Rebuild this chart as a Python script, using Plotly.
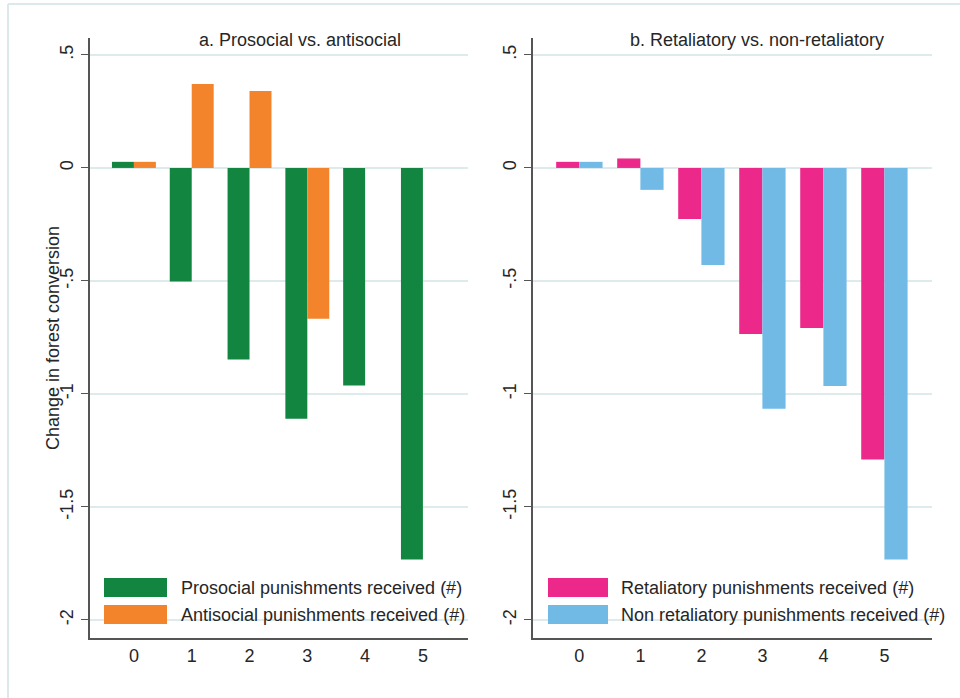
import plotly.graph_objects as go

# Punishments received (#)
categories = [0, 1, 2, 3, 4, 5]
tick_labels = ["0", "1", "2", "3", "4", "5"]

# Panel a: change in forest conversion by punishment type
prosocial = [0.027, -0.503, -0.848, -1.110, -0.963, -1.733]
antisocial = [0.027, 0.372, 0.341, -0.667, None, None]

# Panel b
retaliatory = [0.027, 0.042, -0.226, -0.735, -0.708, -1.290]
non_retaliatory = [0.027, -0.097, -0.430, -1.066, -0.965, -1.733]

y_tickvals = [0.5, 0, -0.5, -1, -1.5, -2]
y_ticktext = [".5", "0", "-.5", "-1", "-1.5", "-2"]

panel_titles = ["a. Prosocial vs. antisocial", "b. Retaliatory vs. non-retaliatory"]
legend_a = ["Prosocial punishments received (#)", "Antisocial punishments received (#)"]
legend_b = ["Retaliatory punishments received (#)", "Non retaliatory punishments received (#)"]

GREEN = "#128641"
ORANGE = "#F3842C"
PINK = "#EC288B"
BLUE = "#72BAE6"
GRID = "#DDEBEC"
AXIS = "#555555"
TEXT = "#262626"
FONT = "Liberation Sans, Arial, sans-serif"
FS = 18

W, H = 960, 698
dom_a = [90 / W, 468 / W]
dom_b = [533 / W, 932 / W]
dom_y = [1 - 638 / H, 1 - 38 / H]

fig = go.Figure()

fig.add_trace(go.Bar(x=categories, y=prosocial, marker=dict(color=GREEN, line=dict(width=0)),
                     xaxis="x", yaxis="y", showlegend=False))
fig.add_trace(go.Bar(x=categories, y=antisocial, marker=dict(color=ORANGE, line=dict(width=0)),
                     xaxis="x", yaxis="y", showlegend=False))
fig.add_trace(go.Bar(x=categories, y=retaliatory, marker=dict(color=PINK, line=dict(width=0)),
                     xaxis="x2", yaxis="y2", showlegend=False))
fig.add_trace(go.Bar(x=categories, y=non_retaliatory, marker=dict(color=BLUE, line=dict(width=0)),
                     xaxis="x2", yaxis="y2", showlegend=False))

xaxis_common = dict(
    range=[-0.76, 5.78], tickvals=categories, ticktext=tick_labels,
    showgrid=False, zeroline=False, showline=True, linecolor=AXIS, linewidth=1.5,
    ticks="", ticklabelstandoff=1,
    tickfont=dict(family=FONT, size=FS, color=TEXT), fixedrange=True,
)
yaxis_common = dict(
    range=[-2.08, 0.575], tickvals=y_tickvals, ticktext=y_ticktext, tickangle=-90,
    showgrid=True, gridcolor=GRID, gridwidth=1.5, zeroline=False,
    showline=True, linecolor=AXIS, linewidth=1.5,
    ticks="outside", ticklen=7, tickwidth=1.2, tickcolor=AXIS, ticklabelstandoff=1,
    tickfont=dict(family=FONT, size=FS, color=TEXT), domain=dom_y,
)

fig.update_layout(
    width=W, height=H,
    margin=dict(l=0, r=0, t=0, b=0),
    paper_bgcolor="white", plot_bgcolor="white",
    barmode="group", bargap=0.24, bargroupgap=0,
    font=dict(family=FONT, color=TEXT),
    xaxis=dict(xaxis_common, domain=dom_a, anchor="y"),
    yaxis=dict(yaxis_common, anchor="x"),
    xaxis2=dict(xaxis_common, domain=dom_b, anchor="y2"),
    yaxis2=dict(yaxis_common, anchor="x2"),
)

# Outer frame lines (top and left)
fig.add_shape(type="line", xref="paper", yref="paper", x0=8 / W, x1=1, y0=1 - 4 / H, y1=1 - 4 / H,
              line=dict(color="#DCE9EA", width=2))
fig.add_shape(type="line", xref="paper", yref="paper", x0=8 / W, x1=8 / W, y0=0, y1=1 - 4 / H,
              line=dict(color="#DCE9EA", width=2))

# Panel titles
fig.add_annotation(text=panel_titles[0], xref="paper", yref="paper", x=300 / W, y=1 - 40 / H,
                   showarrow=False, xanchor="center", yanchor="middle",
                   font=dict(family=FONT, size=FS, color=TEXT))
fig.add_annotation(text=panel_titles[1], xref="paper", yref="paper", x=757 / W, y=1 - 40 / H,
                   showarrow=False, xanchor="center", yanchor="middle",
                   font=dict(family=FONT, size=FS, color=TEXT))

# Y-axis title
fig.add_annotation(text="Change in forest conversion", xref="paper", yref="paper",
                   x=53 / W, y=1 - 338 / H, textangle=-90, showarrow=False,
                   xanchor="center", yanchor="middle",
                   font=dict(family=FONT, size=FS, color=TEXT))

# Legends drawn inside each panel
def add_legend(x0, x1, text_x, labels, colors):
    rows = [(578, 597), (605, 624)]
    for (y0, y1), lab, col in zip(rows, labels, colors):
        fig.add_shape(type="rect", xref="paper", yref="paper",
                      x0=x0 / W, x1=x1 / W, y0=1 - y1 / H, y1=1 - y0 / H,
                      fillcolor=col, line=dict(width=0), layer="above")
        fig.add_annotation(text=lab, xref="paper", yref="paper",
                           x=text_x / W, y=1 - ((y0 + y1) / 2) / H,
                           showarrow=False, xanchor="left", yanchor="middle",
                           font=dict(family=FONT, size=FS, color=TEXT))


add_legend(104, 167, 179, legend_a, [GREEN, ORANGE])
add_legend(548, 608, 619, legend_b, [PINK, BLUE])

fig.write_html("out.html")
